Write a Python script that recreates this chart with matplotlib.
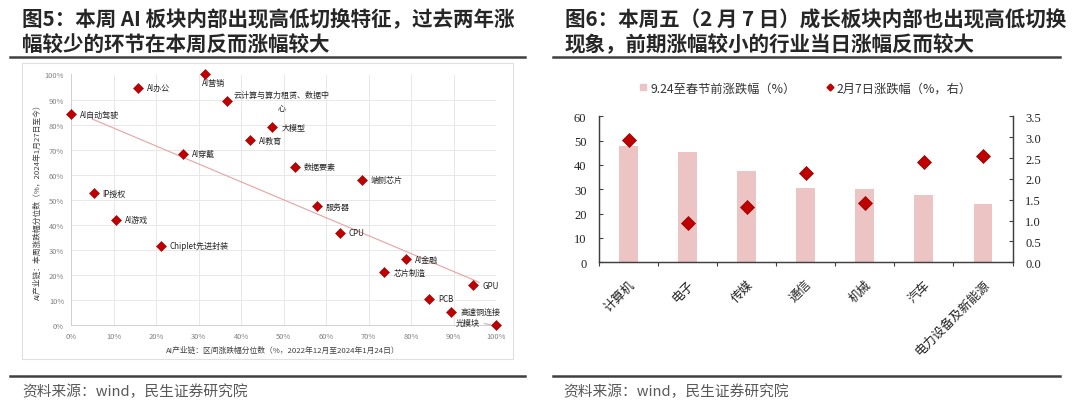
import matplotlib
matplotlib.use("Agg")
import matplotlib.pyplot as plt
import numpy as np
from matplotlib.lines import Line2D
from matplotlib.patches import Rectangle

plt.rcParams['font.family'] = ['Noto Sans CJK SC', 'DejaVu Sans']
plt.rcParams['axes.unicode_minus'] = False

# ---------------- data: left scatter ----------------
names = ["AI营销", "AI办公", "云计算与算力租赁、数据中\n心", "AI自动驾驶", "大模型", "AI教育",
         "AI穿戴", "数据要素", "端侧芯片", "IP授权", "服务器", "AI游戏", "CPU",
         "Chiplet先进封装", "AI金融", "芯片制造", "GPU", "PCB", "高速铜连接", "光模块"]
x_pct = [31.6, 15.8, 36.8, 0.0, 47.4, 42.1, 26.3, 52.6, 68.4, 5.3, 57.9, 10.5, 63.2,
         21.1, 78.9, 73.7, 94.7, 84.2, 89.5, 100.0]
y_pct = [100.0, 94.7, 89.5, 84.2, 78.9, 73.7, 68.4, 63.2, 57.9, 52.6, 47.4, 42.1, 36.8,
         31.6, 26.3, 21.1, 15.8, 10.5, 5.3, 0.0]

# ---------------- data: right bar/diamond ----------------
industries = ["计算机", "电子", "传媒", "通信", "机械", "汽车", "电力设备及新能源"]
chg_924 = [47.9, 45.5, 37.5, 30.4, 30.0, 27.7, 24.0]
chg_0207 = [2.92, 0.95, 1.33, 2.13, 1.41, 2.40, 2.55]

W, H = 1080, 410
fig = plt.figure(figsize=(W / 100, H / 100), dpi=100)
fig.patch.set_facecolor('white')

def fx(px):
    return px / W

def fy(py):
    return 1 - py / H

title_color = '#262626'
tfs = 14.8
# ---------------- titles ----------------
fig.text(fx(22), fy(20), "图5：本周 AI 板块内部出现高低切换特征，过去两年涨", fontsize=tfs,
         fontweight='bold', color=title_color, ha='left', va='center')
fig.text(fx(22), fy(45), "幅较少的环节在本周反而涨幅较大", fontsize=tfs,
         fontweight='bold', color=title_color, ha='left', va='center')
fig.text(fx(565), fy(20), "图6：本周五（2 月 7 日）成长板块内部也出现高低切换", fontsize=tfs,
         fontweight='bold', color=title_color, ha='left', va='center')
fig.text(fx(565), fy(45), "现象，前期涨幅较小的行业当日涨幅反而较大", fontsize=tfs,
         fontweight='bold', color=title_color, ha='left', va='center')

# rules
for (x0, x1) in [(10, 525), (553, 1060)]:
    fig.add_artist(Line2D([fx(x0), fx(x1)], [fy(58), fy(58)], color='#404040', lw=1.8))
    fig.add_artist(Line2D([fx(x0), fx(x1)], [fy(377), fy(377)], color='#404040', lw=1.8))

fig.text(fx(22), fy(392), "资料来源：wind，民生证券研究院", fontsize=10.6, color='#595959',
         ha='left', va='center')
fig.text(fx(563), fy(392), "资料来源：wind，民生证券研究院", fontsize=10.6, color='#595959',
         ha='left', va='center')

# ---------------- left scatter ----------------
fig.add_artist(Rectangle((fx(22), fy(360)), fx(513) - fx(22), fy(64) - fy(360),
                         fill=False, edgecolor='#e0e0e0', lw=0.8))

ax1 = fig.add_axes([fx(71), fy(326), fx(496) - fx(71), fy(75.5) - fy(326)])
ax1.set_xlim(0, 100)
ax1.set_ylim(0, 100)
ax1.set_xticks(np.arange(0, 101, 10))
ax1.set_yticks(np.arange(0, 101, 10))
ax1.set_xticklabels([f"{v}%" for v in range(0, 101, 10)])
ax1.set_yticklabels([f"{v}%" for v in range(0, 101, 10)])
ax1.tick_params(labelsize=5.4, colors='#808080', length=0, pad=5)
ax1.grid(True, color='#e8e8e8', lw=0.7)
ax1.set_axisbelow(True)
for s in ['top', 'right']:
    ax1.spines[s].set_visible(False)
for s in ['left', 'bottom']:
    ax1.spines[s].set_color('#d0d0d0')
    ax1.spines[s].set_linewidth(0.7)

coef = np.polyfit(x_pct, y_pct, 1)
xl = np.array([5, 96])
ax1.plot(xl, np.polyval(coef, xl), color='#e6a3a3', lw=0.8, zorder=2)

ax1.plot(x_pct, y_pct, linestyle='none', marker='D', markersize=5, color='#c00000',
         markeredgecolor='#9b0000', markeredgewidth=0.4, clip_on=False, zorder=4)

lab_kw = dict(fontsize=5.8, color='#262626', textcoords='offset pixels', zorder=5)
for n, xv, yv in zip(names, x_pct, y_pct):
    if n == "AI营销":
        ax1.annotate(n, (xv, yv), xytext=(8, -8), ha='center', va='center', **lab_kw)
    elif n.startswith("云计算"):
        ax1.annotate(n, (xv, yv), xytext=(54, 0), ha='center', va='center',
                     multialignment='center', linespacing=1.6, **lab_kw)
    elif n == "光模块":
        ax1.annotate(n, (xv, yv), xytext=(-16, 3), ha='right', va='center',
                     arrowprops=dict(arrowstyle='-', color='#a0a0a0', lw=0.6,
                                     shrinkA=1, shrinkB=4), **lab_kw)
    else:
        ax1.annotate(n, (xv, yv), xytext=(9, 0), ha='left', va='center', **lab_kw)

fig.text(fx(283), fy(351), "AI产业链：区间涨跌幅分位数（%，2022年12月至2024年1月24日）",
         fontsize=5.6, color='#404040', ha='center', va='center')
fig.text(fx(38), fy(200), "AI产业链：本周涨跌幅分位数（%，2024年1月27日至今）",
         fontsize=5.6, color='#404040', ha='center', va='center', rotation=90)

# ---------------- right bar chart ----------------
ax2 = fig.add_axes([fx(599), fy(263.3), fx(1012.5) - fx(599), fy(117.3) - fy(263.3)])
xpos = np.arange(len(industries))
ax2.bar(xpos, chg_924, width=0.32, color='#ecc4c4', zorder=2)
ax2.set_xlim(-0.5, len(industries) - 0.5)
ax2.set_ylim(0, 60)
ax2.set_yticks(np.arange(0, 61, 10))
ax3 = ax2.twinx()
ax3.plot(xpos, chg_0207, linestyle='none', marker='D', markersize=7, color='#c00000',
         markeredgecolor='#8b0000', markeredgewidth=0.5, zorder=5)
ax3.set_ylim(0, 3.5)
ax3.set_yticks(np.arange(0, 3.51, 0.5))
ax3.set_yticklabels([f"{v:.1f}" for v in np.arange(0, 3.51, 0.5)])

serif = ['Liberation Serif', 'DejaVu Serif']
for a in (ax2, ax3):
    a.spines['top'].set_visible(False)
    for s in ['left', 'right', 'bottom']:
        a.spines[s].set_color('#404040')
        a.spines[s].set_linewidth(0.9)
    for lbl in a.get_yticklabels():
        lbl.set_fontfamily(serif)
        lbl.set_fontsize(9)
        lbl.set_color('#222222')
ax2.tick_params(axis='y', direction='in', length=3, pad=9, width=0.8, color='#404040')
ax3.tick_params(axis='y', direction='in', length=3, pad=9, width=0.8, color='#404040')

ax2.set_xticks(xpos)
ax2.set_xticklabels(industries, rotation=45, ha='right', va='top', rotation_mode='anchor',
                    fontsize=9, color='#222222')
ax2.tick_params(axis='x', which='major', length=0, pad=11)
ax2.set_xticks(np.arange(-0.5, len(industries), 1.0), minor=True)
ax2.tick_params(axis='x', which='minor', direction='out', length=3, width=0.8, color='#404040')

handles = [Line2D([], [], linestyle='none', marker='s', markersize=5, color='#ecc4c4'),
           Line2D([], [], linestyle='none', marker='D', markersize=3.5, color='#c00000')]
fig.legend(handles, ["9.24至春节前涨跌幅（%）", "2月7日涨跌幅（%，右）"], loc='center',
           bbox_to_anchor=(fx(805), fy(89)), ncol=2, frameon=False, fontsize=8.8,
           handlelength=0.8, handletextpad=0.2, columnspacing=2.4, labelcolor='#333333')

fig.savefig("out.png", dpi=100, facecolor='white')
